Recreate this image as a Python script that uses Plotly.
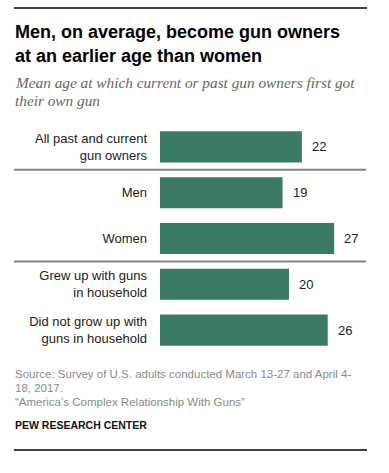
import plotly.graph_objects as go

categories = ["All past and current<br>gun owners", "Men", "Women",
              "Grew up with guns<br>in household", "Did not grow up with<br>guns in household"]
values = [22, 19, 27, 20, 26]
value_labels = ["22", "19", "27", "20", "26"]

title_lines = ["Men, on average, become gun owners", "at an earlier age than women"]
subtitle_lines = ["Mean age at which current or past gun owners first got", "their own gun"]
source_lines = ["Source: Survey of U.S. adults conducted March 13-27 and April 4-",
                "18, 2017.",
                "\u201cAmerica\u2019s Complex Relationship With Guns\u201d"]
credit = "PEW RESEARCH CENTER"

W, H = 389, 473
L, R, T, B = 160, 23, 124, 120
PW, PH = W - L - R, H - T - B

def px(x):
    return (x - L) / PW

def py(y):
    return (H - B - y) / PH

BAR = "#3b7a67"
SANS = "Liberation Sans, Arial, sans-serif"
SERIF = "Liberation Serif, Georgia, serif"

fig = go.Figure(go.Bar(
    x=values, y=categories, orientation="h",
    marker=dict(color=BAR, line=dict(width=0)),
    width=0.68, hoverinfo="skip",
))

ann = []
for v, c, t in zip(values, categories, value_labels):
    ann.append(dict(x=v, y=c, xref="x", yref="y", text=t, showarrow=False,
                    xanchor="left", yanchor="middle", xshift=8,
                    font=dict(family=SANS, size=13, color="#222")))

for i, (t, yc) in enumerate(zip(title_lines, [32, 56])):
    ann.append(dict(x=px(13), y=py(yc), xref="paper", yref="paper", text="<b>%s</b>" % t,
                    showarrow=False, xanchor="left", yanchor="middle",
                    font=dict(family=SANS, size=18, color="#000")))
for t, yc in zip(subtitle_lines, [83, 100]):
    ann.append(dict(x=px(13), y=py(yc), xref="paper", yref="paper", text="<i>%s</i>" % t,
                    showarrow=False, xanchor="left", yanchor="middle",
                    font=dict(family=SERIF, size=15.3, color="#666")))
for t, yc in zip(source_lines, [374, 388, 402]):
    ann.append(dict(x=px(13), y=py(yc), xref="paper", yref="paper", text=t,
                    showarrow=False, xanchor="left", yanchor="middle",
                    font=dict(family=SANS, size=11.5, color="#8a8a8a")))
ann.append(dict(x=px(13), y=py(425), xref="paper", yref="paper", text="<b>%s</b>" % credit,
                showarrow=False, xanchor="left", yanchor="middle",
                font=dict(family=SANS, size=10.5, color="#111")))

shapes = [
    dict(type="line", xref="paper", yref="paper", x0=px(14), x1=px(367), y0=py(8), y1=py(8),
         line=dict(color="#000", width=1.5)),
    dict(type="line", xref="paper", yref="paper", x0=px(14), x1=px(367), y0=py(450), y1=py(450),
         line=dict(color="#000", width=1.5)),
    dict(type="line", xref="paper", yref="y", x0=px(14), x1=px(366), y0=0.5, y1=0.5,
         line=dict(color="#808080", width=2)),
    dict(type="line", xref="paper", yref="y", x0=px(14), x1=px(366), y0=2.5, y1=2.5,
         line=dict(color="#808080", width=2)),
]

fig.update_layout(
    width=W, height=H, margin=dict(l=L, r=R, t=T, b=B, autoexpand=False),
    paper_bgcolor="white", plot_bgcolor="white", showlegend=False,
    xaxis=dict(range=[0, PW / 6.45], visible=False, fixedrange=True),
    yaxis=dict(autorange="reversed", showgrid=False, zeroline=False, showline=False,
               ticks="", ticklabelstandoff=12,
               tickfont=dict(family=SANS, size=13, color="#222"), fixedrange=True),
    annotations=ann, shapes=shapes,
)

fig.write_html("out.html", config=dict(displayModeBar=False),
               post_script="document.body.style.margin='0';document.body.style.overflow='hidden';")
